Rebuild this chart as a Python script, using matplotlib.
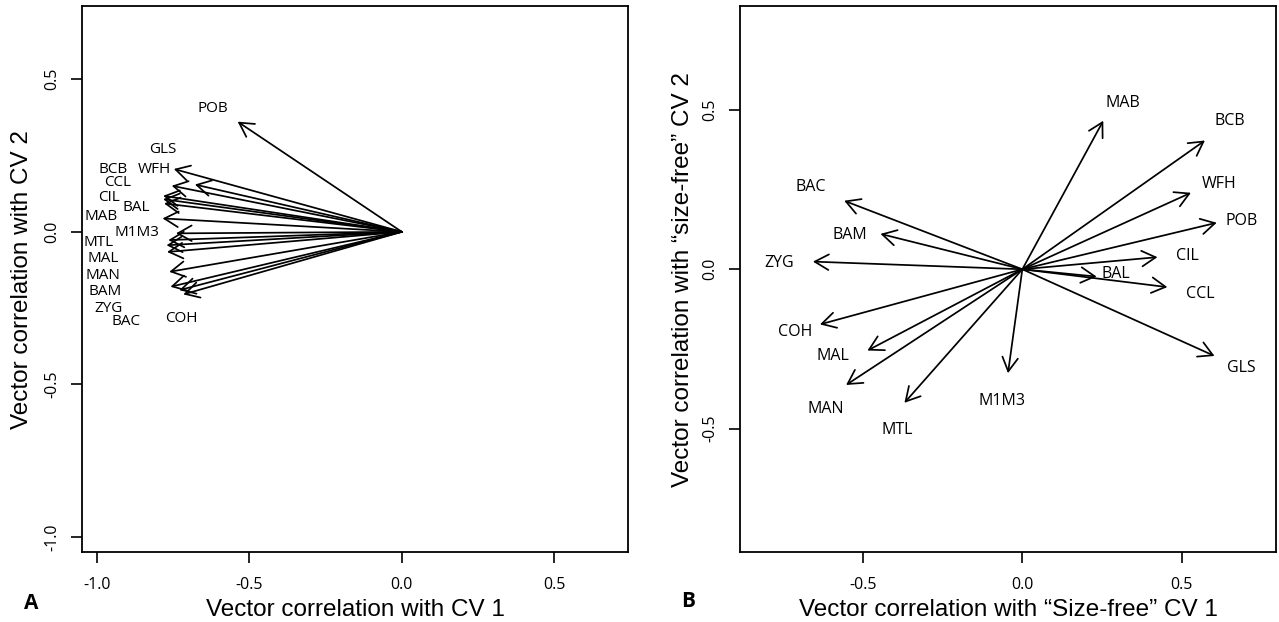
import matplotlib
matplotlib.use("Agg")
import matplotlib.pyplot as plt

# ---------------- data ----------------
# Panel A: vector correlations with CV 1 / CV 2
a_names = ["POB", "WFH", "GLS", "BCB", "CCL", "CIL", "BAL", "MAB",
           "M1M3", "MTL", "MAL", "MAN", "BAM", "ZYG", "COH", "BAC"]
a_x = [-0.538, -0.747, -0.678, -0.754, -0.782, -0.782, -0.779, -0.784,
       -0.740, -0.765, -0.771, -0.769, -0.762, -0.758, -0.729, -0.716]
a_y = [0.361, 0.206, 0.155, 0.151, 0.118, 0.107, 0.093, 0.044,
       -0.005, -0.027, -0.044, -0.066, -0.131, -0.180, -0.191, -0.205]
a_lab_x = [-0.620, -0.811, -0.784, -0.946, -0.932, -0.959, -0.869, -0.986,
           -0.869, -0.995, -0.980, -0.978, -0.973, -0.962, -0.721, -0.904]
a_lab_y = [0.405, 0.205, 0.271, 0.205, 0.162, 0.112, 0.079, 0.049,
           -0.003, -0.036, -0.087, -0.142, -0.194, -0.251, -0.284, -0.295]

# Panel B: vector correlations with "size-free" CV 1 / CV 2
b_names = ["MAB", "BCB", "WFH", "POB", "CIL", "BAL", "CCL", "GLS",
           "M1M3", "MTL", "MAN", "MAL", "COH", "ZYG", "BAM", "BAC"]
b_x = [0.254, 0.573, 0.529, 0.610, 0.424, 0.233, 0.455, 0.603,
       -0.045, -0.370, -0.553, -0.486, -0.635, -0.657, -0.445, -0.559]
b_y = [0.466, 0.404, 0.240, 0.146, 0.038, -0.023, -0.056, -0.272,
       -0.326, -0.419, -0.363, -0.255, -0.173, 0.024, 0.111, 0.215]
b_lab_x = [0.317, 0.652, 0.617, 0.689, 0.519, 0.293, 0.558, 0.686,
           -0.063, -0.394, -0.616, -0.594, -0.713, -0.762, -0.540, -0.664]
b_lab_y = [0.521, 0.466, 0.268, 0.153, 0.042, -0.015, -0.078, -0.311,
           -0.412, -0.504, -0.439, -0.272, -0.198, 0.019, 0.108, 0.257]

a_xticks = [-1.0, -0.5, 0.0, 0.5]
a_yticks = [0.5, 0.0, -0.5, -1.0]
b_xticks = [-0.5, 0.0, 0.5]
b_yticks = [0.5, 0.0, -0.5]

a_xlabel = "Vector correlation with CV 1"
a_ylabel = "Vector correlation with CV 2"
b_xlabel = "Vector correlation with \u201cSize-free\u201d CV 1"
b_ylabel = "Vector correlation with \u201csize-free\u201d CV 2"

# ---------------- drawing ----------------
W, H = 1279, 622
fig = plt.figure(figsize=(W / 100, H / 100), dpi=100)

LABEL_FONT = ["Liberation Sans", "DejaVu Sans"]
TEXT_FONT = ["Open Sans", "DejaVu Sans"]


def make_axes(px_left, px_right, px_top, px_bottom):
    return fig.add_axes([px_left / W, 1 - px_bottom / H,
                         (px_right - px_left) / W, (px_bottom - px_top) / H])


def style(ax, xlim, ylim, xticks, yticks, xlabel, ylabel, ylab_x):
    ax.set_xlim(*xlim)
    ax.set_ylim(*ylim)
    ax.set_xticks(xticks)
    ax.set_yticks(yticks)
    ax.set_xticklabels([f"{t:.1f}" for t in xticks], family=TEXT_FONT, fontsize=11.5)
    ax.set_yticklabels([f"{t:.1f}" for t in yticks], family=TEXT_FONT, fontsize=11.5,
                       rotation=90, va="center")
    ax.tick_params(axis="both", direction="out", length=8, width=1.2, color="black")
    ax.tick_params(axis="x", pad=10)
    ax.tick_params(axis="y", pad=8)
    for s in ax.spines.values():
        s.set_linewidth(1.3)
        s.set_color("black")
    ax.set_xlabel(xlabel, family=LABEL_FONT, fontsize=17.5)
    ax.set_ylabel(ylabel, family=LABEL_FONT, fontsize=17.5)
    ax.xaxis.label.set_va("center")
    ax.yaxis.label.set_va("center")
    ax.xaxis.set_label_coords(0.5, -0.106)
    ax.yaxis.set_label_coords(ylab_x, 0.5)


def draw_vectors(ax, xs, ys, lx, ly, names, fs):
    for x, y in zip(xs, ys):
        ax.annotate("", xy=(x, y), xytext=(0, 0),
                    arrowprops=dict(arrowstyle="->,head_length=0.5,head_width=0.28",
                                    lw=1.25, color="black", shrinkA=0, shrinkB=0,
                                    mutation_scale=20))
    for x, y, n in zip(lx, ly, names):
        ax.text(x, y, n, ha="center", va="center", family=TEXT_FONT, fontsize=fs)


axA = make_axes(82.3, 628.0, 6.0, 552.3)
style(axA, (-1.047, 0.741), (-1.050, 0.740), a_xticks, a_yticks,
      a_xlabel, a_ylabel, -0.1105)
draw_vectors(axA, a_x, a_y, a_lab_x, a_lab_y, a_names, 11)

axB = make_axes(740.3, 1276.0, 6.0, 552.3)
style(axB, (-0.885, 0.796), (-0.888, 0.826), b_xticks, b_yticks,
      b_xlabel, b_ylabel, -0.107)
draw_vectors(axB, b_x, b_y, b_lab_x, b_lab_y, b_names, 11.5)

fig.text(30.7 / W, 1 - 603.3 / H, "A", family=TEXT_FONT, fontsize=15,
         fontweight="bold", ha="center", va="center")
fig.text(688.3 / W, 1 - 601.7 / H, "B", family=TEXT_FONT, fontsize=15,
         fontweight="bold", ha="center", va="center")

fig.savefig("out.png", dpi=100)
